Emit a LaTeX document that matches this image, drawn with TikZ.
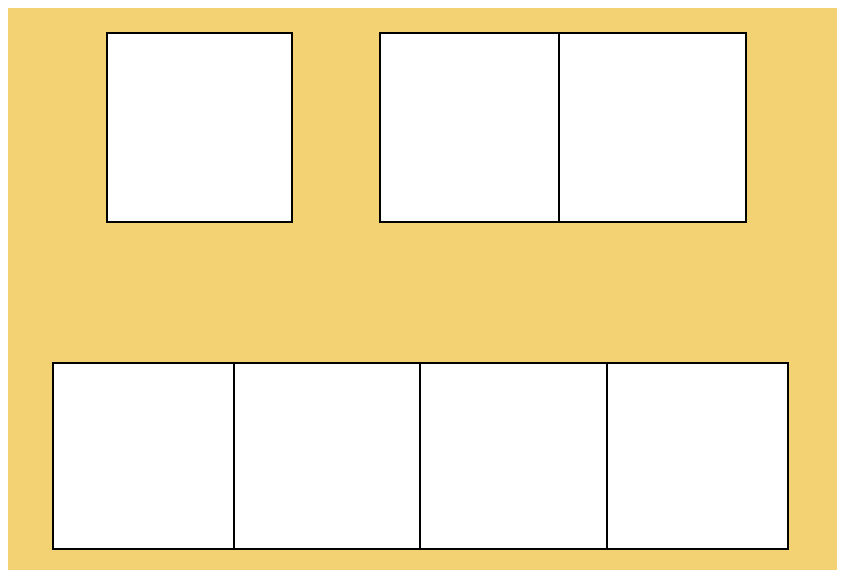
\documentclass[tikz,border=0pt]{standalone}
\usetikzlibrary{positioning}

\definecolor{panelgold}{RGB}{243,210,115}

\begin{document}
\begin{tikzpicture}[
  x=1pt, y=-1pt,
  % --- cell base ---
  cell/.style={
    draw=black, fill=white, line width=1.2pt,
    inner sep=0pt, outer sep=0pt, anchor=north west
  },
  cellA/.style={cell, minimum height=189pt},
  cellB/.style={cell, minimum height=186pt},
]
\useasboundingbox (0,0) rectangle (845,576);

% background panel
\fill[panelgold] (8,8) rectangle (837,570);

% ===================== TOP ROW =====================
\node[cellA, minimum width=185pt] (single) at (107,33) {};
\node[cellA, minimum width=179pt] (pairL) at (380,33) {};
\node[cellA, minimum width=187pt, right=0pt of pairL.north east, anchor=north west] (pairR) {};

% ===================== BOTTOM ROW =====================
\node[cellB, minimum width=181pt] (rowA) at (53,363) {};
\node[cellB, minimum width=186pt, right=0pt of rowA.north east, anchor=north west] (rowB) {};
\node[cellB, minimum width=187pt, right=0pt of rowB.north east, anchor=north west] (rowC) {};
\node[cellB, minimum width=181pt, right=0pt of rowC.north east, anchor=north west] (rowD) {};

\end{tikzpicture}
\end{document}
